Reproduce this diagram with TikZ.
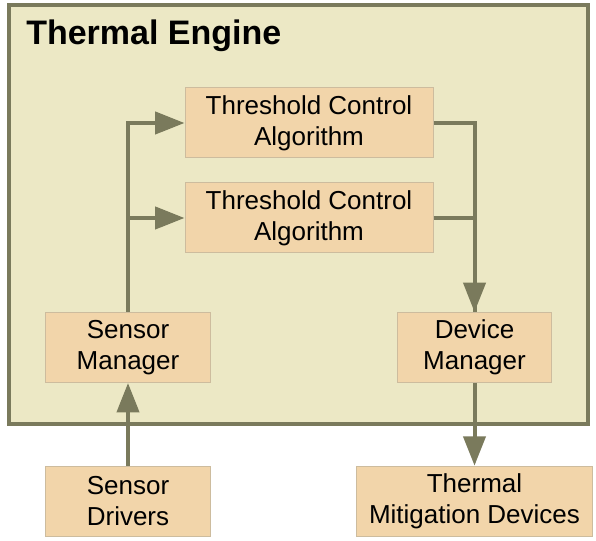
\documentclass[tikz,border=0pt]{standalone}
\usepackage{fontspec}
\setmainfont{Liberation Sans}
\usetikzlibrary{positioning,arrows.meta}
\definecolor{enginefill}{RGB}{236,232,197}
\definecolor{engineline}{RGB}{122,122,92}
\definecolor{boxfill}{RGB}{242,213,170}
\definecolor{boxline}{RGB}{205,188,158}
\tikzstyle{tbox}=[rectangle, draw=boxline, fill=boxfill, line width=0.75pt,
                  align=center, inner sep=0pt, minimum height=52.5pt,
                  font=\fontsize{19.5}{23.3}\selectfont]
\tikzstyle{pline}=[-, line width=3pt, draw=engineline]
\tikzstyle{parrow}=[pline, -{Triangle[length=22pt,width=16.5pt]}]

\begin{document}
\begin{tikzpicture}[x=0.75pt,y=-0.75pt]
\useasboundingbox (0,0) rectangle (596,541);

\draw[line width=3pt, draw=engineline, fill=enginefill] (8.5,5.5) rectangle (587.5,424);
\node (TITLE) [anchor=base west, inner sep=0pt, font=\fontsize{25.5}{30}\selectfont\bfseries]
  at (26,45) {Thermal Engine};

\node (TCA1) [tbox, minimum width=186pt] at (309,123) {Threshold Control\\Algorithm};
\node (TCA2) [tbox, minimum width=186pt, below=18pt of TCA1] {Threshold Control\\Algorithm};

\node (SM) [tbox, minimum width=124pt] at (128,347.5) {Sensor\\Manager};
\node (DM) [tbox, minimum width=115pt] at (474.5,347.5) {Device\\Manager};

\node (SD) [tbox, minimum width=124pt, below=62pt of SM] {Sensor\\Drivers};
\node (TMD) [tbox, minimum width=177pt, below=62pt of DM] {Thermal\\Mitigation Devices};

 \draw[parrow]   (SM.north) |- (TCA1.west) ;
 \draw[parrow]   (SM.north) |- (TCA2.west) ;
 \draw[parrow]   (TCA1.east) -| (DM.north) ;
 \draw[pline]    (TCA2.east) -| (DM.north) ;
 \draw[parrow]   (SD.north) -- (SM.south) ;
 \draw[parrow]   (DM.south) -- (TMD.north) ;

\end{tikzpicture}
\end{document}
